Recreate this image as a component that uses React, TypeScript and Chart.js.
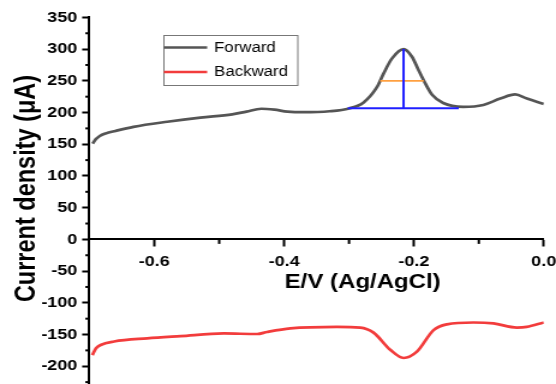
import React, { useEffect, useRef } from 'react';
import { Chart, registerables } from 'chart.js';

Chart.register(...registerables);

// ---- data ----
const forwardX = [-0.695, -0.69, -0.684, -0.675, -0.66, -0.632, -0.58, -0.529, -0.48, -0.458, -0.435, -0.415, -0.395, -0.37, -0.33, -0.30, -0.2775, -0.257, -0.247, -0.234, -0.216, -0.203, -0.193, -0.1826, -0.172, -0.155, -0.124, -0.093, -0.067, -0.044, -0.026, 0.0];
const forwardY = [151, 158, 163, 167, 171, 177.5, 185.5, 192, 197, 201.5, 206, 204.5, 201.5, 200.5, 202, 206.5, 216, 240, 261, 285, 300, 288, 267, 246, 228, 215, 209, 212, 222, 228.5, 222, 213.5];

const backwardX = [-0.6954, -0.69, -0.6826, -0.662, -0.6108, -0.5595, -0.4929, -0.4415, -0.4262, -0.3903, -0.3185, -0.2826, -0.2622, -0.2365, -0.216, -0.1954, -0.1698, -0.1492, -0.1083, -0.0775, -0.0415, -0.0262, 0.0];
const backwardY = [-182.5, -172, -166.5, -161, -156, -152.5, -148.3, -149.2, -146, -140.4, -138, -139, -147, -174, -187, -177, -143, -134, -131, -132.5, -139, -138, -131];

const peakLineX = [-0.216, -0.216];
const peakLineY = [206.6, 300];
const baseLineX = [-0.302, -0.131];
const baseLineY = [206.6, 206.6];
const halfLineX = [-0.252, -0.185];
const halfLineY = [250, 250];

const seriesLabels = ['Forward', 'Backward'];

const xMajorTicks = [-0.6, -0.4, -0.2, 0.0];
const xTickLabels = ['-0.6', '-0.4', '-0.2', '0.0'];
const xMinorTicks = [-0.5, -0.3, -0.1];

const yMajorTicks = [-200, -150, -100, -50, 0, 50, 100, 150, 200, 250, 300, 350];
const yTickLabels = ['-200', '-150', '-100', '-50', '0', '50', '100', '150', '200', '250', '300', '350'];
const yMinorTicks = [-225, -175, -125, -75, -25, 25, 75, 125, 175, 225, 275, 325];

const xTitle = 'E/V (Ag/AgCl)';
const yTitle = 'Current density (μA)';

const FONT = '"Liberation Sans", Arial, Helvetica, sans-serif';
const GRAY = '#555555';
const RED = '#f23c3c';
const BLUE = '#1f1fff';
const ORANGE = '#ffa040';

const zip = (xs: number[], ys: number[]) => xs.map((x, i) => ({ x, y: ys[i] }));

const decorPlugin = {
  id: 'decor',
  afterDraw(chart: any) {
    const { ctx, chartArea } = chart;
    const xs = chart.scales.x;
    const ys = chart.scales.y;
    ctx.save();
    // minor ticks
    ctx.strokeStyle = '#000';
    ctx.lineWidth = 2;
    const y0 = ys.getPixelForValue(0);
    xMinorTicks.forEach((v) => {
      const px = xs.getPixelForValue(v);
      ctx.beginPath();
      ctx.moveTo(px, y0);
      ctx.lineTo(px, y0 + 4.5);
      ctx.stroke();
    });
    yMinorTicks.forEach((v) => {
      const py = ys.getPixelForValue(v);
      ctx.beginPath();
      ctx.moveTo(chartArea.left - 3.3, py);
      ctx.lineTo(chartArea.left, py);
      ctx.stroke();
    });

    // axis titles
    ctx.fillStyle = '#000';
    ctx.font = `bold 20px ${FONT}`;
    ctx.textAlign = 'center';
    ctx.textBaseline = 'alphabetic';
    ctx.fillText(xTitle, 302, 288);

    ctx.save();
    ctx.translate(29.4, 188.5);
    ctx.rotate(-Math.PI / 2);
    ctx.font = `bold 23.5px ${FONT}`;
    ctx.textAlign = 'center';
    ctx.fillText(yTitle, 0, 0);
    ctx.restore();

    // legend
    const bx = 136, by = 35, bw = 111.5, bh = 50;
    ctx.strokeStyle = '#777';
    ctx.lineWidth = 1;
    ctx.strokeRect(bx + 0.5, by + 0.5, bw, bh);
    const ds = chart.data.datasets;
    const rows = [0, 1];
    const rowY = [47.5, 72];
    ctx.font = `14px ${FONT}`;
    ctx.textAlign = 'left';
    ctx.textBaseline = 'middle';
    rows.forEach((di, i) => {
      ctx.strokeStyle = ds[di].borderColor;
      ctx.lineWidth = 2.6;
      ctx.beginPath();
      ctx.moveTo(bx + 0.5, rowY[i]);
      ctx.lineTo(172.5, rowY[i]);
      ctx.stroke();
      ctx.fillStyle = '#000';
      ctx.fillText(ds[di].label, 178.3, rowY[i] + 0.5);
    });
    ctx.restore();
  },
};

export default function App() {
  const ref = useRef<HTMLCanvasElement | null>(null);

  useEffect(() => {
    document.body.style.margin = '0';
    const canvas = ref.current;
    if (!canvas) return;
    const lineDs = (label: string, data: any[], color: string, width: number, order: number) => ({
      label,
      data,
      borderColor: color,
      backgroundColor: color,
      borderWidth: width,
      pointRadius: 0,
      fill: false,
      order,
    });
    const chart = new Chart(canvas, {
      type: 'line',
      data: {
        datasets: [
          { ...lineDs(seriesLabels[0], zip(forwardX, forwardY), GRAY, 2.7, 2), cubicInterpolationMode: 'monotone' },
          { ...lineDs(seriesLabels[1], zip(backwardX, backwardY), RED, 2.7, 2), cubicInterpolationMode: 'monotone' },
          lineDs('peak', zip(peakLineX, peakLineY), BLUE, 2, 1),
          lineDs('baseline', zip(baseLineX, baseLineY), BLUE, 2, 1),
          lineDs('half', zip(halfLineX, halfLineY), ORANGE, 1.8, 1),
        ] as any,
      },
      options: {
        animation: false,
        responsive: false,
        devicePixelRatio: 1,
        layout: { padding: { left: 0, right: 10.2, top: 17.4, bottom: 0 } },
        plugins: { legend: { display: false }, tooltip: { enabled: false }, title: { display: false } },
        scales: {
          x: {
            type: 'linear',
            min: -0.7,
            max: 0,
            position: { y: 0 } as any,
            afterBuildTicks: (s: any) => {
              s.ticks = xMajorTicks.map((v) => ({ value: v }));
            },
            afterFit: (s: any) => {
              s.paddingLeft = 0;
              s.paddingRight = 0;
            },
            ticks: {
              autoSkip: false,
              maxRotation: 0,
              minRotation: 0,
              padding: 7,
              color: '#000',
              font: { family: FONT, size: 15, weight: 'bold' },
              callback: (_v: any, i: number) => xTickLabels[i],
            },
            grid: { display: true, drawOnChartArea: false, tickLength: 6.5, tickWidth: 2, tickColor: '#000' },
            border: { display: true, color: '#000', width: 2 },
          },
          y: {
            type: 'linear',
            min: -228,
            max: 350,
            afterBuildTicks: (s: any) => {
              s.ticks = yMajorTicks.map((v) => ({ value: v }));
            },
            afterFit: (s: any) => {
              s.width = 74.4;
              s.paddingTop = 0;
              s.paddingBottom = 0;
            },
            ticks: {
              autoSkip: false,
              padding: 4,
              color: '#000',
              font: { family: FONT, size: 15, weight: 'bold' },
              callback: (_v: any, i: number) => yTickLabels[i],
            },
            grid: { display: true, drawOnChartArea: false, tickLength: 6, tickWidth: 2, tickColor: '#000' },
            border: { display: true, color: '#000', width: 2 },
          },
        },
      } as any,
      plugins: [decorPlugin],
    });
    return () => chart.destroy();
  }, []);

  return (
    <div style={{ width: 556, height: 384, overflow: 'hidden' }}>
      <canvas
        ref={ref}
        width={463}
        height={384}
        style={{ width: '556px', height: '384px', display: 'block' }}
      />
    </div>
  );
}
